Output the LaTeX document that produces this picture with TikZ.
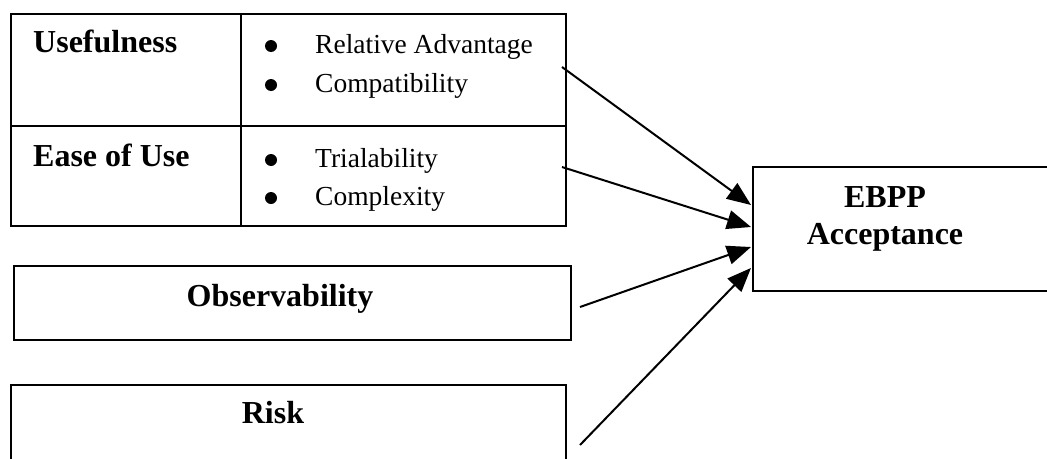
\documentclass[tikz,border=0pt]{standalone}
\usepackage{fontspec}
\setmainfont{Liberation Serif}
\usetikzlibrary{arrows.meta}
\tikzset{
  frame/.style={draw=black, line width=2pt, inner sep=0pt, outer sep=0pt, anchor=north west},
  bold/.style={font=\fontsize{32}{36}\selectfont\bfseries, inner sep=0pt, anchor=base west},
  item/.style={font=\fontsize{27.5}{32}\selectfont, inner sep=0pt, anchor=base west},
  btitle/.style={font=\fontsize{32}{36}\selectfont\bfseries, inner sep=0pt, anchor=base},
  dot/.style={circle, fill=black, inner sep=0pt, minimum size=12pt},
  link/.style={draw=black, line width=2pt, -{Triangle[length=24pt, width=19pt]}}
}
\begin{document}
\begin{tikzpicture}[x=1pt, y=-1pt]
\useasboundingbox (0,0) rectangle (1047,458);
\clip (0,0) rectangle (1047,458);
% top table
\node[frame, minimum width=230pt, minimum height=112pt] (uleft) at (11,14) {};
\node[frame, minimum width=325pt, minimum height=112pt] (uright) at (241,14) {};
\node[frame, minimum width=230pt, minimum height=100pt] (eleft) at (11,126) {};
\node[frame, minimum width=325pt, minimum height=100pt] (eright) at (241,126) {};
\node[bold] (tuse) at (33,52) {Usefulness};
\node[bold] (tease) at (33,166) {Ease of Use};
\node[dot] (b1) at (271,46) {};
\node[dot] (b2) at (271,85) {};
\node[dot] (b3) at (271,160) {};
\node[dot] (b4) at (271,198) {};
\node[item] (i1) at (315,53) {Relative Advantage};
\node[item] (i2) at (315,92) {Compatibility};
\node[item] (i3) at (315,167) {Trialability};
\node[item] (i4) at (315,205) {Complexity};
% observability
\node[frame, minimum width=557pt, minimum height=74pt] (obs) at (14,266) {};
\node[btitle] (tobs) at (280,306) {Observability};
% risk (cut off at bottom)
\node[frame, minimum width=555pt, minimum height=120pt] (risk) at (11,385) {};
\node[btitle] (trisk) at (273,423) {Risk};
% EBPP
\node[frame, minimum width=320pt, minimum height=124pt] (ebpp) at (753,167) {};
\node[btitle] (te1) at (885,207) {EBPP};
\node[btitle] (te2) at (885,244) {Acceptance};
% connector ends
\coordinate (s1) at (562,67);
\coordinate (s2) at (562,167);
\coordinate (s3) at (580,307);
\coordinate (s4) at (580,445);
\coordinate (e1) at (751,205);
\coordinate (e2) at (751,227);
\coordinate (e3) at (751,247);
\coordinate (e4) at (751,268);
\draw[link] (s1) -- (e1);
\draw[link] (s2) -- (e2);
\draw[link] (s3) -- (e3);
\draw[link] (s4) -- (e4);
\end{tikzpicture}
\end{document}
